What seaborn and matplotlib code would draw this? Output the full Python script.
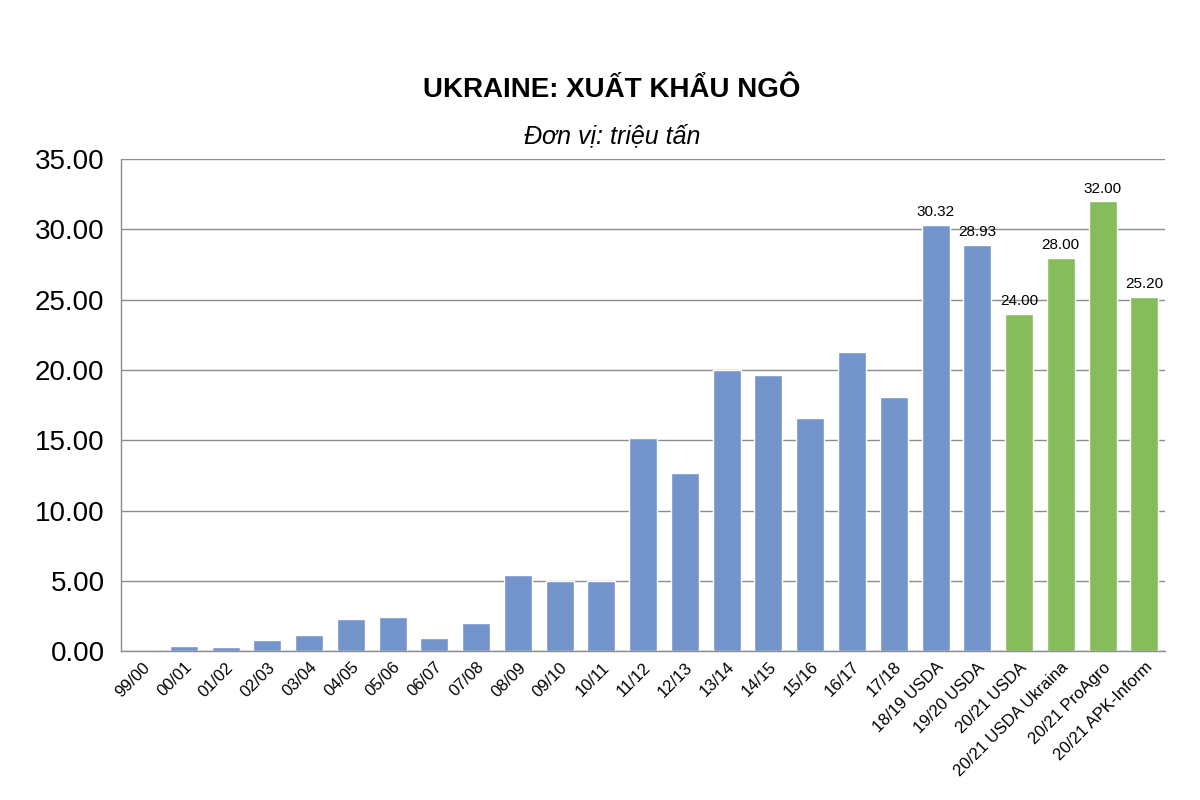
import matplotlib.pyplot as plt
import seaborn as sns
import pandas as pd

seasons = ["99/00", "00/01", "01/02", "02/03", "03/04", "04/05", "05/06", "06/07",
           "07/08", "08/09", "09/10", "10/11", "11/12", "12/13", "13/14", "14/15",
           "15/16", "16/17", "17/18", "18/19 USDA", "19/20 USDA", "20/21 USDA",
           "20/21 USDA Ukraina", "20/21 ProAgro", "20/21 APK-Inform"]
exports = [0.0, 0.38, 0.33, 0.78, 1.15, 2.27, 2.42, 0.97, 2.03, 5.45, 5.02, 5.0,
           15.16, 12.7, 20.0, 19.67, 16.6, 21.3, 18.08, 30.32, 28.93, 24.0, 28.0,
           32.0, 25.2]
kind = ["actual"] * 21 + ["forecast"] * 4
labelled = [19, 20, 21, 22, 23, 24]

df = pd.DataFrame({"season": seasons, "exports": exports, "kind": kind})

sns.set_style("white")
plt.rcParams["font.family"] = ["Liberation Sans", "DejaVu Sans"]
plt.rcParams["text.color"] = "black"
plt.rcParams["xtick.color"] = "black"
plt.rcParams["ytick.color"] = "black"

fig = plt.figure(figsize=(12, 8), dpi=100)
ax = fig.add_axes([0.101, 0.186, 0.870, 0.615])

sns.barplot(data=df, x="season", y="exports", hue="kind", dodge=False,
            palette={"actual": "#7395CC", "forecast": "#86BC5C"},
            width=0.67, legend=False, ax=ax, saturation=1)

ax.set_ylim(0, 35)
ax.set_xlim(-0.5, len(seasons) - 0.5)
ax.set_yticks([0, 5, 10, 15, 20, 25, 30, 35])
ax.set_yticklabels([f"{v:.2f}" for v in ax.get_yticks()], fontsize=20)
ax.set_xticks(range(len(seasons)))
ax.set_xticklabels(seasons, rotation=45, ha="right", rotation_mode="anchor", fontsize=12)
ax.tick_params(axis="x", length=0, pad=6)
ax.tick_params(axis="y", length=0, pad=12)
ax.yaxis.grid(True, color="#8C8C8C", linewidth=1)
ax.set_axisbelow(True)
for s in ["top", "right"]:
    ax.spines[s].set_visible(False)
for s in ["left", "bottom"]:
    ax.spines[s].set_color("#8C8C8C")
    ax.spines[s].set_linewidth(1)
ax.set_xlabel("")
ax.set_ylabel("")

for i in labelled:
    ax.annotate(f"{exports[i]:.2f}", (i, exports[i]), xytext=(0, 4),
                textcoords="offset points", ha="center", va="bottom", fontsize=11)

# title: UKRAINE: XUẤT KHẨU NGÔ
fig.text(0.51, 0.887, "UKRAINE: XU\u1ea4T KH\u1ea8U NG\u00d4", ha="center", va="center",
         fontsize=20, fontweight="bold")
fig.text(0.51, 0.829, "\u0110\u01a1n v\u1ecb: tri\u1ec7u t\u1ea5n", ha="center", va="center",
         fontsize=18, style="italic")

fig.savefig("out.png", dpi=100)
